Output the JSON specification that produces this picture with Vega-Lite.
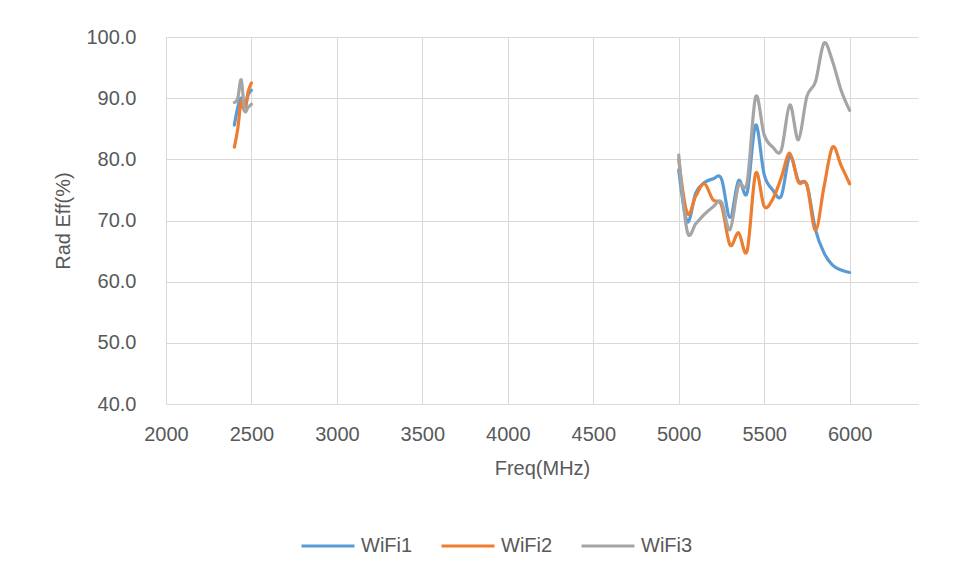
{
  "$schema": "https://vega.github.io/schema/vega-lite/v6.json",
  "autosize": {"type": "none"},
  "width": 752,
  "height": 367,
  "padding": {"left": 166, "top": 37, "right": 41, "bottom": 178},
  "background": "white",
  "config": {
    "font": "Liberation Sans",
    "view": {"stroke": null},
    "axis": {
      "labelFont": "Liberation Sans",
      "labelFontSize": 20,
      "labelColor": "#595959",
      "titleFont": "Liberation Sans",
      "titleFontSize": 20,
      "titleFontWeight": "normal",
      "titleColor": "#595959",
      "gridColor": "#d9d9d9",
      "gridWidth": 1,
      "ticks": false
    },
    "legend": {
      "labelFont": "Liberation Sans",
      "labelFontSize": 20,
      "labelColor": "#595959"
    }
  },
  "data": {
    "values": [
      {"series": "WiFi1", "band": "2.4G", "freq": 2400, "eff": 85.6},
      {"series": "WiFi1", "band": "2.4G", "freq": 2420, "eff": 88.5},
      {"series": "WiFi1", "band": "2.4G", "freq": 2440, "eff": 90.0},
      {"series": "WiFi1", "band": "2.4G", "freq": 2460, "eff": 88.2},
      {"series": "WiFi1", "band": "2.4G", "freq": 2480, "eff": 90.5},
      {"series": "WiFi1", "band": "2.4G", "freq": 2500, "eff": 91.3},
      {"series": "WiFi1", "band": "5G", "freq": 5000, "eff": 78.3},
      {"series": "WiFi1", "band": "5G", "freq": 5050, "eff": 69.8},
      {"series": "WiFi1", "band": "5G", "freq": 5100, "eff": 74.5},
      {"series": "WiFi1", "band": "5G", "freq": 5150, "eff": 76.2},
      {"series": "WiFi1", "band": "5G", "freq": 5200, "eff": 76.8},
      {"series": "WiFi1", "band": "5G", "freq": 5250, "eff": 76.8},
      {"series": "WiFi1", "band": "5G", "freq": 5300, "eff": 70.5},
      {"series": "WiFi1", "band": "5G", "freq": 5350, "eff": 76.5},
      {"series": "WiFi1", "band": "5G", "freq": 5400, "eff": 74.5},
      {"series": "WiFi1", "band": "5G", "freq": 5450, "eff": 85.6},
      {"series": "WiFi1", "band": "5G", "freq": 5500, "eff": 77.5},
      {"series": "WiFi1", "band": "5G", "freq": 5550, "eff": 75.0},
      {"series": "WiFi1", "band": "5G", "freq": 5600, "eff": 74.0},
      {"series": "WiFi1", "band": "5G", "freq": 5650, "eff": 80.5},
      {"series": "WiFi1", "band": "5G", "freq": 5700, "eff": 76.5},
      {"series": "WiFi1", "band": "5G", "freq": 5750, "eff": 75.8},
      {"series": "WiFi1", "band": "5G", "freq": 5800, "eff": 68.5},
      {"series": "WiFi1", "band": "5G", "freq": 5850, "eff": 64.7},
      {"series": "WiFi1", "band": "5G", "freq": 5900, "eff": 62.7},
      {"series": "WiFi1", "band": "5G", "freq": 5950, "eff": 61.9},
      {"series": "WiFi1", "band": "5G", "freq": 6000, "eff": 61.5},
      {"series": "WiFi2", "band": "2.4G", "freq": 2400, "eff": 82.0},
      {"series": "WiFi2", "band": "2.4G", "freq": 2420, "eff": 85.0},
      {"series": "WiFi2", "band": "2.4G", "freq": 2440, "eff": 89.5},
      {"series": "WiFi2", "band": "2.4G", "freq": 2460, "eff": 88.0},
      {"series": "WiFi2", "band": "2.4G", "freq": 2480, "eff": 91.0},
      {"series": "WiFi2", "band": "2.4G", "freq": 2500, "eff": 92.5},
      {"series": "WiFi2", "band": "5G", "freq": 5000, "eff": 80.0},
      {"series": "WiFi2", "band": "5G", "freq": 5050, "eff": 71.2},
      {"series": "WiFi2", "band": "5G", "freq": 5100, "eff": 74.0},
      {"series": "WiFi2", "band": "5G", "freq": 5150, "eff": 76.0},
      {"series": "WiFi2", "band": "5G", "freq": 5200, "eff": 73.4},
      {"series": "WiFi2", "band": "5G", "freq": 5250, "eff": 72.5},
      {"series": "WiFi2", "band": "5G", "freq": 5300, "eff": 66.0},
      {"series": "WiFi2", "band": "5G", "freq": 5350, "eff": 68.0},
      {"series": "WiFi2", "band": "5G", "freq": 5400, "eff": 65.0},
      {"series": "WiFi2", "band": "5G", "freq": 5450, "eff": 77.7},
      {"series": "WiFi2", "band": "5G", "freq": 5500, "eff": 72.3},
      {"series": "WiFi2", "band": "5G", "freq": 5550, "eff": 73.5},
      {"series": "WiFi2", "band": "5G", "freq": 5600, "eff": 77.0},
      {"series": "WiFi2", "band": "5G", "freq": 5650, "eff": 81.0},
      {"series": "WiFi2", "band": "5G", "freq": 5700, "eff": 76.3},
      {"series": "WiFi2", "band": "5G", "freq": 5750, "eff": 75.8},
      {"series": "WiFi2", "band": "5G", "freq": 5800, "eff": 68.4},
      {"series": "WiFi2", "band": "5G", "freq": 5850, "eff": 75.5},
      {"series": "WiFi2", "band": "5G", "freq": 5900, "eff": 82.0},
      {"series": "WiFi2", "band": "5G", "freq": 5950, "eff": 79.0},
      {"series": "WiFi2", "band": "5G", "freq": 6000, "eff": 76.0},
      {"series": "WiFi3", "band": "2.4G", "freq": 2400, "eff": 89.3},
      {"series": "WiFi3", "band": "2.4G", "freq": 2420, "eff": 90.0},
      {"series": "WiFi3", "band": "2.4G", "freq": 2440, "eff": 93.0},
      {"series": "WiFi3", "band": "2.4G", "freq": 2460, "eff": 88.0},
      {"series": "WiFi3", "band": "2.4G", "freq": 2480, "eff": 88.5},
      {"series": "WiFi3", "band": "2.4G", "freq": 2500, "eff": 89.0},
      {"series": "WiFi3", "band": "5G", "freq": 5000, "eff": 80.7},
      {"series": "WiFi3", "band": "5G", "freq": 5050, "eff": 68.2},
      {"series": "WiFi3", "band": "5G", "freq": 5100, "eff": 69.5},
      {"series": "WiFi3", "band": "5G", "freq": 5150, "eff": 71.0},
      {"series": "WiFi3", "band": "5G", "freq": 5200, "eff": 72.2},
      {"series": "WiFi3", "band": "5G", "freq": 5250, "eff": 73.0},
      {"series": "WiFi3", "band": "5G", "freq": 5300, "eff": 68.5},
      {"series": "WiFi3", "band": "5G", "freq": 5350, "eff": 75.8},
      {"series": "WiFi3", "band": "5G", "freq": 5400, "eff": 76.2},
      {"series": "WiFi3", "band": "5G", "freq": 5450, "eff": 90.2},
      {"series": "WiFi3", "band": "5G", "freq": 5500, "eff": 84.0},
      {"series": "WiFi3", "band": "5G", "freq": 5550, "eff": 82.0},
      {"series": "WiFi3", "band": "5G", "freq": 5600, "eff": 81.5},
      {"series": "WiFi3", "band": "5G", "freq": 5650, "eff": 88.9},
      {"series": "WiFi3", "band": "5G", "freq": 5700, "eff": 83.2},
      {"series": "WiFi3", "band": "5G", "freq": 5750, "eff": 90.3},
      {"series": "WiFi3", "band": "5G", "freq": 5800, "eff": 92.7},
      {"series": "WiFi3", "band": "5G", "freq": 5850, "eff": 99.0},
      {"series": "WiFi3", "band": "5G", "freq": 5900, "eff": 96.0},
      {"series": "WiFi3", "band": "5G", "freq": 5950, "eff": 91.3},
      {"series": "WiFi3", "band": "5G", "freq": 6000, "eff": 88.0}
    ]
  },
  "mark": {"type": "line", "interpolate": "cardinal", "tension": 0, "strokeWidth": 3.2, "strokeCap": "round", "strokeJoin": "round"},
  "encoding": {
    "x": {
      "field": "freq",
      "type": "quantitative",
      "scale": {"domain": [2000, 6400], "nice": false, "zero": false},
      "axis": {
        "title": "Freq(MHz)",
        "values": [2000, 2500, 3000, 3500, 4000, 4500, 5000, 5500, 6000],
        "format": "d",
        "labelPadding": 20,
        "titlePadding": 14,
        "domain": true,
        "domainColor": "#d9d9d9",
        "domainWidth": 1,
        "grid": true,
        "labelFlush": false
      }
    },
    "y": {
      "field": "eff",
      "type": "quantitative",
      "scale": {"domain": [40, 100], "nice": false, "zero": false},
      "axis": {
        "title": "Rad Eff(%)",
        "values": [40, 50, 60, 70, 80, 90, 100],
        "format": ".1f",
        "labelPadding": 30,
        "titlePadding": 12,
        "domain": false,
        "grid": true
      }
    },
    "color": {
      "field": "series",
      "type": "nominal",
      "scale": {"domain": ["WiFi1", "WiFi2", "WiFi3"], "range": ["#5B9BD5", "#ED7D31", "#A5A5A5"]},
      "legend": {
        "title": null,
        "orient": "none",
        "direction": "horizontal",
        "legendX": 134,
        "legendY": 481,
        "symbolType": "stroke",
        "symbolSize": 2809,
        "symbolStrokeWidth": 3,
        "labelOffset": 5,
        "columnPadding": 22
      }
    },
    "detail": {"field": "band", "type": "nominal"}
  }
}
